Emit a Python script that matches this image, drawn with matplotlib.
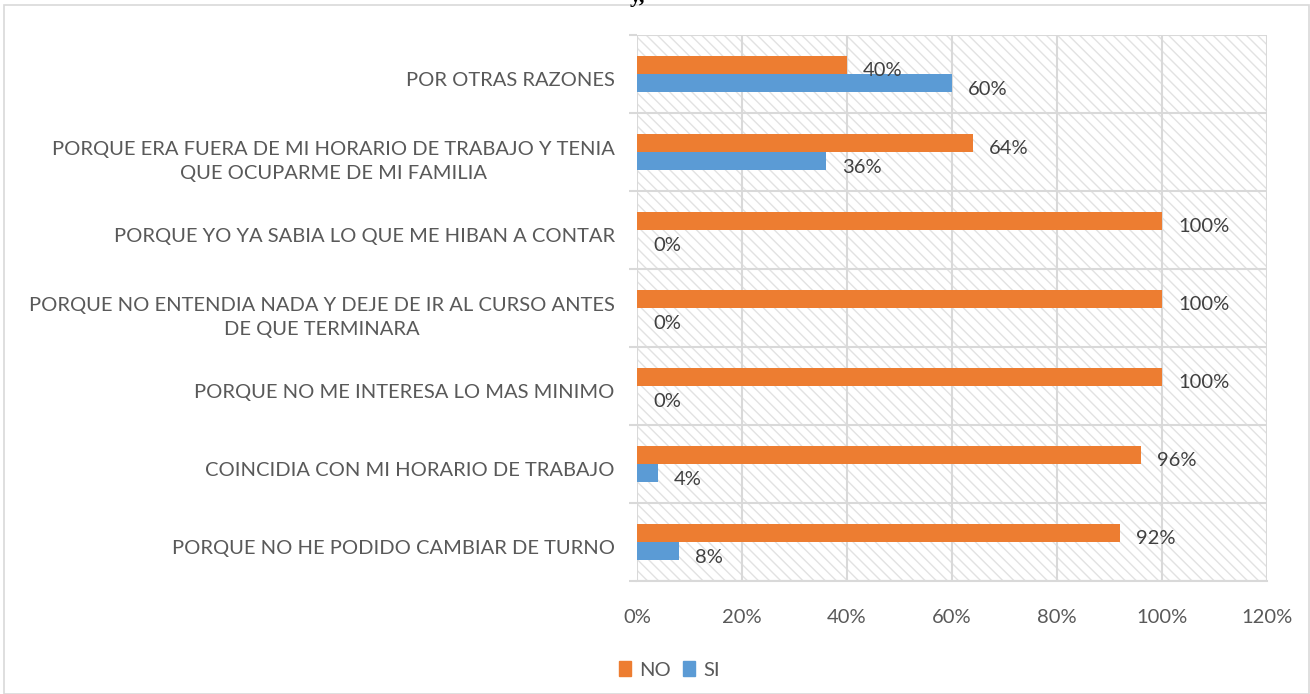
import matplotlib.pyplot as plt
from matplotlib.patches import Rectangle, Patch
from matplotlib.ticker import FixedLocator, PercentFormatter
from matplotlib.transforms import ScaledTranslation

plt.rcParams['font.family'] = ['Lato', 'DejaVu Sans']
plt.rcParams['hatch.linewidth'] = 1.0

# categories listed bottom to top
categories = [
    'PORQUE NO HE PODIDO CAMBIAR DE TURNO',
    'COINCIDIA CON MI HORARIO DE TRABAJO',
    'PORQUE NO ME INTERESA LO MAS MINIMO',
    'PORQUE NO ENTENDIA NADA Y DEJE DE IR AL CURSO ANTES\nDE QUE TERMINARA',
    'PORQUE YO YA SABIA LO QUE ME HIBAN A CONTAR',
    'PORQUE ERA FUERA DE MI HORARIO DE TRABAJO Y TENIA\nQUE OCUPARME DE MI FAMILIA',
    'POR OTRAS RAZONES',
]
no_vals = [92, 96, 100, 100, 100, 64, 40]
si_vals = [8, 4, 0, 0, 0, 36, 60]
xticks = [0, 20, 40, 60, 80, 100, 120]

orange = '#ED7D31'
blue = '#5B9BD5'
grid_c = '#D9D9D9'
txt_c = '#595959'
lbl_c = '#404040'
fs = 14.5

fig = plt.figure(figsize=(13.1, 6.94), dpi=100)
ax = fig.add_axes([0.4863, 0.1628, 0.4809, 0.7868])

# hatched plot area
ax.add_patch(Rectangle((0, 0), 1, 1, transform=ax.transAxes, facecolor='white',
                       edgecolor='#E2E2E2', hatch='\\\\\\', linewidth=0, zorder=0))

y = list(range(len(categories)))
h = 0.232
ax.barh([v + h / 2 for v in y], no_vals, height=h, color=orange, zorder=3)
ax.barh([v - h / 2 for v in y], si_vals, height=h, color=blue, zorder=3)

for i in y:
    ax.annotate(f'{no_vals[i]}%', (no_vals[i], i + h / 2), xytext=(16, -6),
                textcoords='offset pixels', ha='left', va='center',
                fontsize=fs, color=lbl_c, zorder=4)
    ax.annotate(f'{si_vals[i]}%', (si_vals[i], i - h / 2), xytext=(16, -6),
                textcoords='offset pixels', ha='left', va='center',
                fontsize=fs, color=lbl_c, zorder=4)

ax.set_xlim(0, 120)
ax.set_ylim(-0.5, len(categories) - 0.5)
ax.set_xticks(xticks)
ax.xaxis.set_major_formatter(PercentFormatter(decimals=0))
ax.set_yticks(y)
ax.set_yticklabels(categories, multialignment='center', linespacing=1.5)
ax.yaxis.set_minor_locator(FixedLocator([v - 0.5 for v in range(len(categories) + 1)]))

ax.tick_params(axis='x', length=0, pad=20, labelsize=fs, labelcolor=txt_c)
ax.tick_params(axis='y', which='major', length=0, pad=16, labelsize=fs, labelcolor=txt_c)
ax.tick_params(axis='y', which='minor', length=6, width=1.5, color=grid_c)

# category labels sit a little below the band centre
shift = ScaledTranslation(0, -5 / 100, fig.dpi_scale_trans)
for lab in ax.get_yticklabels():
    lab.set_transform(lab.get_transform() + shift)

ax.grid(axis='x', color=grid_c, linewidth=1.5, zorder=1)
ax.grid(axis='y', which='minor', color=grid_c, linewidth=1.5, zorder=1)
ax.set_axisbelow(True)
for s in ['top', 'right', 'left']:
    ax.spines[s].set_visible(False)
ax.spines['bottom'].set_color(grid_c)
ax.spines['bottom'].set_linewidth(1.5)
ax.spines['bottom'].set_zorder(1)

handles = [Patch(color=orange, label='NO'), Patch(color=blue, label='SI')]
fig.legend(handles=handles, loc='center', bbox_to_anchor=(0.511, 0.035), ncol=2,
           frameon=False, fontsize=fs, labelcolor=txt_c, handlelength=0.6,
           handleheight=0.8, handletextpad=0.4, columnspacing=0.6)

# outer chart border
fig.add_artist(Rectangle((0.003, 0.0), 0.996, 0.993, transform=fig.transFigure,
                         fill=False, edgecolor=grid_c, linewidth=1.2))
# clipped text from page above
fig.text(0.487, 1.005, 'y,', fontsize=16, fontweight='bold',
         family='Liberation Serif', ha='center', va='center')

fig.savefig('out.png', dpi=100)
